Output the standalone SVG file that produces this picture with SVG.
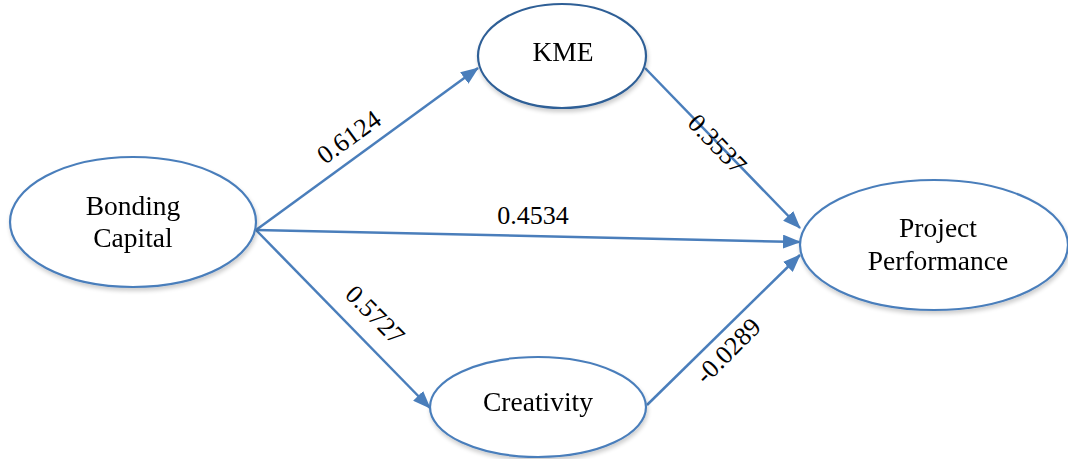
<svg xmlns="http://www.w3.org/2000/svg" width="1068" height="459" viewBox="0 0 1068 459">
<style>
.node{fill:#fff;stroke:#4a7ebb;stroke-width:2.2}
.lbl{font-family:"Liberation Serif","Times New Roman",serif;font-size:27.5px;fill:#000;text-anchor:middle}
.num{font-family:"Liberation Serif","Times New Roman",serif;font-size:26px;fill:#000;text-anchor:middle}
.edge{stroke:#4a7ebb;stroke-width:2.5;fill:none;marker-end:url(#ah)}
</style>
<defs>
<marker id="ah" viewBox="0 0 18 14" refX="17" refY="7" markerWidth="18" markerHeight="14" markerUnits="userSpaceOnUse" orient="auto">
<path d="M0,0 L18,7 L0,14 z" fill="#4a7ebb"/>
</marker>
<filter id="sh" x="-10%" y="-10%" width="120%" height="130%">
<feGaussianBlur in="SourceAlpha" stdDeviation="2"/>
<feOffset dx="1" dy="3" result="b"/>
<feComponentTransfer><feFuncA type="linear" slope="0.2"/></feComponentTransfer>
<feMerge><feMergeNode/><feMergeNode in="SourceGraphic"/></feMerge>
</filter>
</defs>
<rect width="1068" height="459" fill="#fff"/>
<g id="connectors">
<line class="edge" x1="256" y1="230" x2="478" y2="68"/>
<line class="edge" x1="256" y1="230" x2="800" y2="242"/>
<line class="edge" x1="256" y1="230" x2="430" y2="408"/>
<line class="edge" x1="645" y1="68" x2="800" y2="228"/>
<line class="edge" x1="647" y1="405" x2="800" y2="255"/>
<text class="num" transform="translate(354,144) rotate(-36)">0.6124</text>
<text class="num" x="533" y="224">0.4534</text>
<text class="num" transform="translate(369,321) rotate(45)">0.5727</text>
<text class="num" transform="translate(711,150) rotate(46)">0.3537</text>
<text class="num" transform="translate(734,357) rotate(-45)">-0.0289</text>
</g>
<g id="bonding" filter="url(#sh)">
<ellipse class="node" cx="133" cy="222" rx="123" ry="65"/>
<text class="lbl" x="133" y="215">Bonding</text>
<text class="lbl" x="133" y="247">Capital</text>
</g>
<g id="kme" filter="url(#sh)">
<ellipse class="node" cx="562" cy="56" rx="84" ry="52" style="stroke:#2f5f96"/>
<text class="lbl" x="563" y="61">KME</text>
</g>
<g id="project" filter="url(#sh)">
<ellipse class="node" cx="934" cy="245" rx="134" ry="65"/>
<text class="lbl" x="938" y="237">Project</text>
<text class="lbl" x="938" y="270">Performance</text>
</g>
<g id="creativity" filter="url(#sh)">
<ellipse class="node" cx="538" cy="407" rx="108" ry="50"/>
<text class="lbl" x="538" y="411">Creativity</text>
</g>
</svg>
